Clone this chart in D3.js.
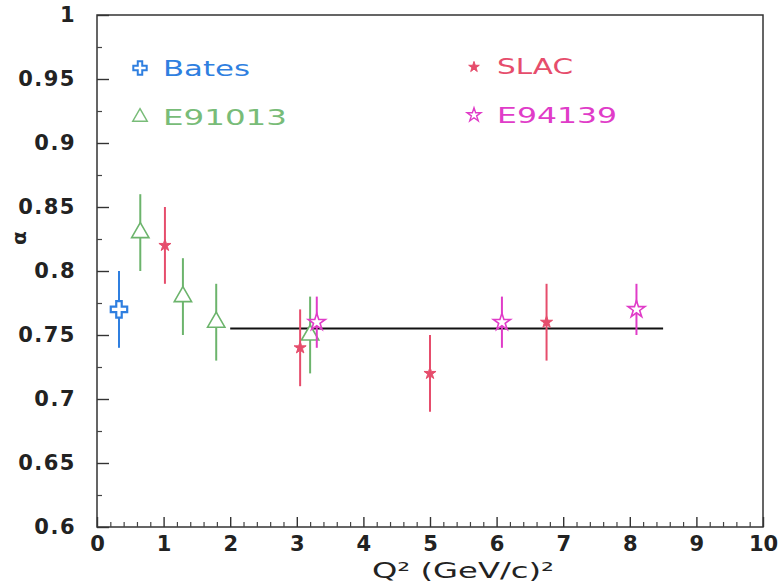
<!DOCTYPE html>
<html>
<head>
<meta charset="utf-8">
<script src="https://cdn.jsdelivr.net/npm/d3@7"></script>
<style>
  body { margin: 0; background: #fff; }
  svg { display: block; }
</style>
</head>
<body>
<div id="container"></div>
<script>
// data
const batesQ2 = [0.33];
const batesAlpha = [0.77];
const batesErr = [0.03];

const e91013Q2 = [0.65, 1.29, 1.79, 3.2];
const e91013Alpha = [0.83, 0.78, 0.76, 0.75];
const e91013Err = [0.03, 0.03, 0.03, 0.03];

const slacQ2 = [1.02, 3.05, 5.0, 6.75];
const slacAlpha = [0.82, 0.74, 0.72, 0.76];
const slacErr = [0.03, 0.03, 0.03, 0.03];

const e94139Q2 = [3.3, 6.08, 8.1];
const e94139Alpha = [0.76, 0.76, 0.77];
const e94139Err = [0.02, 0.02, 0.02];

const fitQ2 = [2.0, 8.5];
const fitAlpha = [0.755, 0.755];

const xTicks = [0, 1, 2, 3, 4, 5, 6, 7, 8, 9, 10];
const yTicks = [0.6, 0.65, 0.7, 0.75, 0.8, 0.85, 0.9, 0.95, 1];

let width = 781;
let height = 586;

let svg = d3.select("#container")
  .append("svg")
  .attr("width", width)
  .attr("height", height);

let x = d3.scaleLinear().domain([0, 10]).range([97, 763]);
let y = d3.scaleLinear().domain([0.6, 1]).range([527, 15]);

const blue = "#2f7fe0";
const green = "#6cb46c";
const red = "#e64d6c";
const magenta = "#e03cc8";

// frame
svg.append("rect")
  .attr("x", x(0)).attr("y", y(1))
  .attr("width", x(10) - x(0)).attr("height", y(0.6) - y(1))
  .attr("fill", "none").attr("stroke", "#333").attr("stroke-width", 1.5);

// minor ticks
let xMinor = d3.range(0, 10.001, 0.2).filter(v => Math.abs(v - Math.round(v)) > 0.01);
svg.append("g")
  .attr("transform", `translate(0,${y(0.6)})`)
  .call(d3.axisBottom(x).tickValues(xMinor).tickSize(-5).tickFormat(""))
  .call(g => g.select(".domain").remove())
  .selectAll("line").attr("stroke", "#444").attr("stroke-width", 1.2);

let yMinor = yTicks.slice(0, -1).map(v => v + 0.025);
svg.append("g")
  .attr("transform", `translate(${x(0)},0)`)
  .call(d3.axisLeft(y).tickValues(yMinor).tickSize(-5).tickFormat(""))
  .call(g => g.select(".domain").remove())
  .selectAll("line").attr("stroke", "#444").attr("stroke-width", 1.2);

// major ticks + labels
let xAxis = svg.append("g")
  .attr("transform", `translate(0,${y(0.6)})`)
  .call(d3.axisBottom(x).tickValues(xTicks).tickSize(-10).tickPadding(9).tickFormat(d3.format("d")));
xAxis.select(".domain").remove();
xAxis.selectAll("line").attr("stroke", "#333").attr("stroke-width", 1.4);
xAxis.selectAll("text")
  .attr("font-family", "DejaVu Sans").attr("font-weight", "bold")
  .attr("font-size", 21).attr("fill", "#222");

let yAxis = svg.append("g")
  .attr("transform", `translate(${x(0)},0)`)
  .call(d3.axisLeft(y).tickValues(yTicks).tickSize(-12).tickPadding(21)
    .tickFormat(d => String(+d.toFixed(2))));
yAxis.select(".domain").remove();
yAxis.selectAll("line").attr("stroke", "#333").attr("stroke-width", 1.4);
yAxis.selectAll("text")
  .attr("font-family", "DejaVu Sans").attr("font-weight", "bold")
  .attr("font-size", 21).attr("fill", "#222").attr("letter-spacing", 1.5);

// axis titles
svg.append("text")
  .attr("x", 372).attr("y", 578)
  .attr("font-family", "DejaVu Sans").attr("font-size", 21).attr("fill", "#222")
  .attr("textLength", 182).attr("lengthAdjust", "spacingAndGlyphs")
  .text("Q² (GeV/c)²");

svg.append("text")
  .attr("transform", "translate(26,238) rotate(-90)")
  .attr("text-anchor", "middle")
  .attr("font-family", "DejaVu Sans").attr("font-weight", "bold")
  .attr("font-size", 20).attr("fill", "#222")
  .text("α");

// fit line
svg.append("line")
  .attr("x1", x(fitQ2[0])).attr("x2", x(fitQ2[1]))
  .attr("y1", y(fitAlpha[0])).attr("y2", y(fitAlpha[1]))
  .attr("stroke", "#111").attr("stroke-width", 2);

function drawSeries(q2, alpha, err, color, symbol, size, fill, sw) {
  let pts = q2.map((q, i) => ({ q: q, a: alpha[i], e: err[i] }));
  let g = svg.append("g");
  g.selectAll("line").data(pts).enter().append("line")
    .attr("x1", d => x(d.q)).attr("x2", d => x(d.q))
    .attr("y1", d => y(d.a - d.e)).attr("y2", d => y(d.a + d.e))
    .attr("stroke", color).attr("stroke-width", 2);
  g.selectAll("path").data(pts).enter().append("path")
    .attr("d", d3.symbol().type(symbol).size(size))
    .attr("transform", d => `translate(${x(d.q)},${y(d.a)})`)
    .attr("fill", fill).attr("stroke", color).attr("stroke-width", sw);
}

drawSeries(batesQ2, batesAlpha, batesErr, blue, d3.symbolCross, 150, "#fff", 2.2);
drawSeries(e91013Q2, e91013Alpha, e91013Err, green, d3.symbolTriangle, 130, "#fff", 1.6);
drawSeries(slacQ2, slacAlpha, slacErr, red, d3.symbolStar, 45, red, 1);
drawSeries(e94139Q2, e94139Alpha, e94139Err, magenta, d3.symbolStar, 90, "#fff", 1.6);

// legend
function legendItem(mx, my, label, color, symbol, size, fill, sw, tx, ty, tl) {
  svg.append("path")
    .attr("d", d3.symbol().type(symbol).size(size))
    .attr("transform", `translate(${mx},${my})`)
    .attr("fill", fill).attr("stroke", color).attr("stroke-width", sw);
  svg.append("text")
    .attr("x", tx).attr("y", ty)
    .attr("font-family", "DejaVu Sans").attr("font-size", 22).attr("fill", color)
    .attr("textLength", tl).attr("lengthAdjust", "spacingAndGlyphs")
    .text(label);
}

legendItem(140, 68, "Bates", blue, d3.symbolCross, 100, "#fff", 2, 163, 76, 87);
legendItem(140, 117, "E91013", "#78bc78", d3.symbolTriangle, 90, "#fff", 1.5, 163, 125, 124);
legendItem(474, 67, "SLAC", red, d3.symbolStar, 35, red, 1, 497, 74, 76);
legendItem(474, 115, "E94139", magenta, d3.symbolStar, 60, "#fff", 1.4, 497, 123, 120);
</script>
</body>
</html>
